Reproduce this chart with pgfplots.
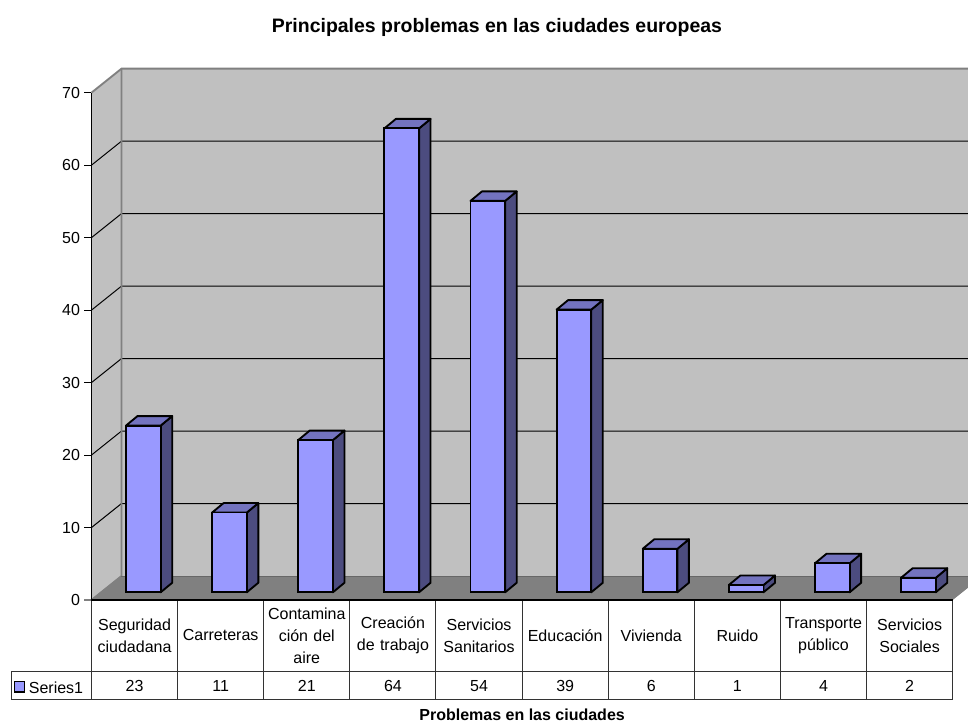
\documentclass[border=0pt]{standalone}
\usepackage{pgfplots}
\usepackage{fontspec}
\setmainfont{Liberation Sans}
\pgfplotsset{compat=1.18}
\definecolor{front}{HTML}{9999FF}
\definecolor{topf}{HTML}{7373BF}
\definecolor{sidef}{HTML}{4C4C7F}
\definecolor{wall}{HTML}{C0C0C0}
\definecolor{floorc}{HTML}{808080}
\definecolor{cellline}{HTML}{333333}
\tikzset{barshift/.style={shift={(6.6pt,5.8pt)}}}
\newcommand\barfaces[2]{%
  \pgfmathsetmacro\xa{#1+0.2014}%
  \pgfmathsetmacro\xb{#1+0.3349}%
  \pgfmathsetmacro\xc{#1-0.2014}%
  \pgfmathsetmacro\xd{#1-0.0679}%
  \pgfmathsetmacro\yb{#2+1.31}%
  \addplot[fill=sidef,draw=black,line width=1.4pt,line join=round,barshift] coordinates {(\xa,0)(\xb,1.31)(\xb,\yb)(\xa,#2)} -- cycle;
  \addplot[fill=topf,draw=black,line width=1.4pt,line join=round,barshift] coordinates {(\xc,#2)(\xd,\yb)(\xb,\yb)(\xa,#2)} -- cycle;
}
\begin{document}
\begin{tikzpicture}
\useasboundingbox (-68.625pt,-93pt) rectangle (657.375pt,450pt);
\begin{axis}[
  at={(0,0)},anchor=south west,
  scale only axis,width=645.9pt,height=380.5pt,
  xmin=-0.5,xmax=9.5,ymin=0,ymax=70,
  clip=false,axis on top,
  axis x line*=bottom,axis y line*=left,
  x axis line style={line width=1.6pt,black},
  y axis line style={line width=0.9pt,black},
  ytick={10,20,...,70},
  extra y ticks={0},
  extra y tick style={ytick style={draw=floorc,line width=0.9pt}},
  xtick={0,...,9},
  xticklabels={{Seguridad\\ciudadana},{Carreteras},{Contamina\\ción del\\aire},{Creación\\de trabajo},{Servicios\\Sanitarios},{Educación},{Vivienda},{Ruido},{Transporte\\público},{Servicios\\Sociales}},
  xtick style={draw=none},
  ytick style={draw=black,line width=0.75pt},
  tick align=outside,major tick length=5.6pt,
  /pgf/number format/assume math mode=true,
  tick label style={font=\fontsize{12}{16.5}\selectfont},
  xticklabel style={anchor=center,yshift=-21pt,align=center,text width=64pt},
  yticklabel style={xshift=0.5pt},
  title={Principales problemas en las ciudades europeas},
  title style={at={(axis description cs:0.4708,1.1135)},anchor=center,yshift=0pt,font=\fontsize{14.6}{17}\bfseries\selectfont},
  xlabel={Problemas en las ciudades},
  xlabel style={at={(axis description cs:0.5,-0.2272)},anchor=center,font=\fontsize{12}{14}\bfseries\selectfont},
]
% walls and floor
\addplot[fill=wall,draw=none] coordinates {(-0.1517,3.31)(9.678,3.31)(9.678,73.31)(-0.1517,73.31)} -- cycle;
\addplot[fill=wall,draw=none] coordinates {(-0.5,0)(-0.1517,3.31)(-0.1517,73.31)(-0.5,70)} -- cycle;
\addplot[fill=floorc,draw=none] coordinates {(-0.5,0)(-0.1517,3.31)(9.678,3.31)(9.678,1.69)(9.5,0)} -- cycle;
% grid lines
\addplot[black,line width=0.75pt] coordinates {(-0.5,10)(-0.1517,13.31)(9.678,13.31)};
\addplot[black,line width=0.75pt] coordinates {(-0.5,20)(-0.1517,23.31)(9.678,23.31)};
\addplot[black,line width=0.75pt] coordinates {(-0.5,30)(-0.1517,33.31)(9.678,33.31)};
\addplot[black,line width=0.75pt] coordinates {(-0.5,40)(-0.1517,43.31)(9.678,43.31)};
\addplot[black,line width=0.75pt] coordinates {(-0.5,50)(-0.1517,53.31)(9.678,53.31)};
\addplot[black,line width=0.75pt] coordinates {(-0.5,60)(-0.1517,63.31)(9.678,63.31)};
% wall borders
\addplot[floorc,line width=1.4pt] coordinates {(-0.5,70)(-0.1517,73.31)(9.678,73.31)};
\addplot[floorc,line width=1.4pt] coordinates {(-0.1517,73.31)(-0.1517,3.31)(-0.5,0)};
\addplot[floorc!80!black,line width=0.75pt] coordinates {(-0.1517,3.31)(9.678,3.31)};
% bars
\barfaces{0}{23}
\barfaces{1}{11}
\barfaces{2}{21}
\barfaces{3}{64}
\barfaces{4}{54}
\barfaces{5}{39}
\barfaces{6}{6}
\barfaces{7}{1}
\barfaces{8}{4}
\barfaces{9}{2}
\addplot[ybar,bar width=26pt,fill=front,draw=black,line width=1.4pt,barshift] coordinates {(0,23)(1,11)(2,21)(3,64)(4,54)(5,39)(6,6)(7,1)(8,4)(9,2)};
% data table lines
\addplot[cellline,line width=0.75pt] coordinates {(-0.5,0)(-0.5,-13.75)};
\addplot[cellline,line width=0.75pt] coordinates {(0.5,0)(0.5,-13.75)};
\addplot[cellline,line width=0.75pt] coordinates {(1.5,0)(1.5,-13.75)};
\addplot[cellline,line width=0.75pt] coordinates {(2.5,0)(2.5,-13.75)};
\addplot[cellline,line width=0.75pt] coordinates {(3.5,0)(3.5,-13.75)};
\addplot[cellline,line width=0.75pt] coordinates {(4.5,0)(4.5,-13.75)};
\addplot[cellline,line width=0.75pt] coordinates {(5.5,0)(5.5,-13.75)};
\addplot[cellline,line width=0.75pt] coordinates {(6.5,0)(6.5,-13.75)};
\addplot[cellline,line width=0.75pt] coordinates {(7.5,0)(7.5,-13.75)};
\addplot[cellline,line width=0.75pt] coordinates {(8.5,0)(8.5,-13.75)};
\addplot[cellline,line width=0.75pt] coordinates {(9.5,0)(9.5,-13.75)};
\addplot[cellline,line width=0.75pt] coordinates {(-1.429,-9.93)(9.5,-9.93)};
\addplot[cellline,line width=0.75pt] coordinates {(-1.429,-13.75)(9.5,-13.75)};
\addplot[cellline,line width=0.75pt] coordinates {(-1.429,-9.93)(-1.429,-13.75)};
% legend key and values
\draw[fill=front,draw=black,line width=0.9pt] (axis cs:-1.39,-11.3) rectangle (axis cs:-1.275,-12.7);
\node[anchor=west,inner sep=0pt,font=\fontsize{12}{14}\selectfont] at (axis cs:-1.23,-12.05) {Series1};
\node[font=\fontsize{12}{14}\selectfont] at (axis cs:0,-11.83) {23};
\node[font=\fontsize{12}{14}\selectfont] at (axis cs:1,-11.83) {11};
\node[font=\fontsize{12}{14}\selectfont] at (axis cs:2,-11.83) {21};
\node[font=\fontsize{12}{14}\selectfont] at (axis cs:3,-11.83) {64};
\node[font=\fontsize{12}{14}\selectfont] at (axis cs:4,-11.83) {54};
\node[font=\fontsize{12}{14}\selectfont] at (axis cs:5,-11.83) {39};
\node[font=\fontsize{12}{14}\selectfont] at (axis cs:6,-11.83) {6};
\node[font=\fontsize{12}{14}\selectfont] at (axis cs:7,-11.83) {1};
\node[font=\fontsize{12}{14}\selectfont] at (axis cs:8,-11.83) {4};
\node[font=\fontsize{12}{14}\selectfont] at (axis cs:9,-11.83) {2};
\end{axis}
\end{tikzpicture}
\end{document}
